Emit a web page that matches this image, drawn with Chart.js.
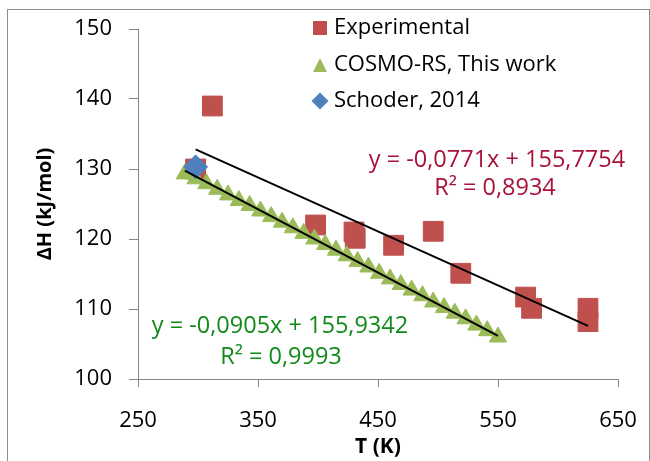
<!DOCTYPE html>
<html>
<head>
<meta charset="utf-8">
<script src="https://cdn.jsdelivr.net/npm/chart.js@4.4.1/dist/chart.umd.min.js"></script>
<style>
  html, body { margin: 0; padding: 0; background: #fff; overflow: hidden; }
  #wrap { position: relative; width: 650px; height: 461px; }
  #frame { position: absolute; left: 7px; top: 9px; width: 641px; height: 490px; border: 1px solid #8c8c8c; }
  canvas { position: absolute; left: 0; top: 0; }
</style>
</head>
<body>
<div id="wrap">
  <div id="frame"></div>
  <canvas id="chart" width="650" height="461"></canvas>
</div>
<script>
// values
const expT = [298, 312, 398, 430, 431, 463, 496, 519, 573, 578, 625, 625];
const expH = [130, 139, 122, 121, 120.1, 119.1, 121.1, 115.1, 111.7, 110.1, 110.1, 108.2];

const cosmoT = [289, 298, 307, 316, 325, 334, 343, 352, 361, 370, 379, 388, 397, 406, 415,
                424, 433, 442, 451, 460, 469, 478, 487, 496, 505, 514, 523, 532, 541, 550];
const cosmoH = [129.3, 128.6, 127.9, 127.1, 126.3, 125.5, 124.8, 124.0, 123.2, 122.4, 121.6, 120.8, 120.0, 119.2, 118.4,
                117.6, 116.8, 116.0, 115.1, 114.3, 113.5, 112.7, 111.9, 111.0, 110.2, 109.4, 108.6, 107.7, 106.9, 106.0];

const schoderT = [298];
const schoderH = [130.3];

// trendline coefficients printed on the chart
const expFit = [-0.0771, 155.7754, 0.8934];
const cosmoFit = [-0.0905, 155.9342, 0.9993];

const xTicks = [250, 350, 450, 550, 650];
const yTicks = [100, 110, 120, 130, 140, 150];

const seriesNames = ['Experimental', 'COSMO-RS, This work', 'Schoder, 2014'];

const RED = '#C0504D';
const GREEN = '#9BBB59';
const BLUE = '#4F81BD';
const AXIS = '#868686';
const FONT = '"Open Sans", "Noto Sans", sans-serif';

function pts(xs, ys) {
  return xs.map((x, i) => ({ x: x, y: ys[i] }));
}

function fitLine(xs, fit) {
  const lo = Math.min(...xs), hi = Math.max(...xs);
  return [{ x: lo, y: fit[0] * lo + fit[1] }, { x: hi, y: fit[0] * hi + fit[1] }];
}

function fmt(v, d) {
  return v.toFixed(d).replace('.', ',');
}

function eqText(fit) {
  return 'y = ' + fmt(fit[0], 4) + 'x + ' + fmt(fit[1], 4);
}

function drawMarker(ctx, style, x, y, s) {
  ctx.beginPath();
  if (style === 'rect') {
    ctx.rect(x - s / 2, y - s / 2, s, s);
  } else if (style === 'triangle') {
    ctx.moveTo(x, y - s / 2);
    ctx.lineTo(x + s / 2, y + s / 2);
    ctx.lineTo(x - s / 2, y + s / 2);
    ctx.closePath();
  } else {
    ctx.moveTo(x, y - s / 2);
    ctx.lineTo(x + s / 2, y);
    ctx.lineTo(x, y + s / 2);
    ctx.lineTo(x - s / 2, y);
    ctx.closePath();
  }
  ctx.fill();
}

const legendPlugin = {
  id: 'sideLegend',
  afterDraw(chart) {
    const ctx = chart.ctx;
    const rows = [28, 65, 101];
    const styles = ['rect', 'triangle', 'rectRot'];
    const colors = [RED, GREEN, BLUE];
    ctx.save();
    ctx.font = '22px ' + FONT;
    ctx.textBaseline = 'middle';
    ctx.textAlign = 'left';
    seriesNames.forEach((name, i) => {
      ctx.fillStyle = colors[i];
      drawMarker(ctx, styles[i], 320, rows[i], i === 2 ? 17 : 14);
      ctx.fillStyle = '#000';
      ctx.fillText(name, 334, rows[i]);
    });
    ctx.restore();
  }
};

const equationPlugin = {
  id: 'equations',
  afterDraw(chart) {
    const ctx = chart.ctx;
    ctx.save();
    ctx.font = '23.5px ' + FONT;
    ctx.textBaseline = 'middle';
    ctx.textAlign = 'center';
    ctx.fillStyle = '#A8113A';
    ctx.fillText(eqText(expFit), 497, 160);
    ctx.fillText('R² = ' + fmt(expFit[2], 4), 495, 188);
    ctx.fillStyle = '#118A1A';
    ctx.fillText(eqText(cosmoFit), 280, 326);
    ctx.fillText('R² = ' + fmt(cosmoFit[2], 4), 281, 357);
    ctx.restore();
  }
};

new Chart(document.getElementById('chart'), {
  type: 'scatter',
  data: {
    datasets: [
      {
        label: 'expFit',
        data: fitLine(expT, expFit),
        showLine: true,
        borderColor: '#000',
        borderWidth: 2,
        pointRadius: 0,
        order: 0
      },
      {
        label: 'cosmoFit',
        data: fitLine(cosmoT, cosmoFit),
        showLine: true,
        borderColor: '#000',
        borderWidth: 2,
        pointRadius: 0,
        order: 0
      },
      {
        label: seriesNames[2],
        data: pts(schoderT, schoderH),
        pointStyle: 'rectRot',
        pointRadius: 12,
        backgroundColor: BLUE,
        borderColor: BLUE,
        borderWidth: 1,
        order: 1
      },
      {
        label: seriesNames[1],
        data: pts(cosmoT, cosmoH),
        pointStyle: 'triangle',
        pointRadius: 10,
        backgroundColor: GREEN,
        borderColor: GREEN,
        borderWidth: 1,
        order: 2
      },
      {
        label: seriesNames[0],
        data: pts(expT, expH),
        pointStyle: 'rect',
        pointRadius: 14,
        backgroundColor: RED,
        borderColor: RED,
        borderWidth: 1,
        order: 3
      }
    ]
  },
  options: {
    responsive: false,
    animation: false,
    events: [],
    layout: { padding: { left: 0, top: 29, right: 32, bottom: 0 } },
    plugins: {
      legend: { display: false },
      tooltip: { enabled: false }
    },
    scales: {
      x: {
        type: 'linear',
        min: 250,
        max: 650,
        afterFit(scale) {
          scale.height = 82;
          scale.paddingLeft = 0;
          scale.paddingRight = 0;
        },
        afterBuildTicks(scale) { scale.ticks = xTicks.map(v => ({ value: v })); },
        ticks: { color: '#000', font: { family: FONT, size: 22 }, padding: 21 },
        grid: { drawOnChartArea: false, drawTicks: true, tickLength: 8, color: AXIS },
        border: { display: true, color: AXIS, width: 1 },
        title: {
          display: true,
          text: 'T (K)',
          color: '#000',
          font: { family: FONT, size: 21, weight: 'bold' },
          padding: { top: 0, bottom: 1 }
        }
      },
      y: {
        type: 'linear',
        min: 100,
        max: 150,
        afterFit(scale) {
          scale.width = 138;
          scale.paddingTop = 0;
          scale.paddingBottom = 0;
        },
        afterBuildTicks(scale) { scale.ticks = yTicks.map(v => ({ value: v })); },
        ticks: { color: '#000', font: { family: FONT, size: 22 }, padding: 17 },
        grid: { drawOnChartArea: false, drawTicks: true, tickLength: 9, color: AXIS },
        border: { display: true, color: AXIS, width: 1 },
        title: {
          display: true,
          text: 'ΔH (kJ/mol)',
          color: '#000',
          font: { family: FONT, size: 20, weight: 'bold' },
          padding: { top: 33, bottom: 0 }
        }
      }
    }
  },
  plugins: [legendPlugin, equationPlugin]
});
</script>
</body>
</html>
